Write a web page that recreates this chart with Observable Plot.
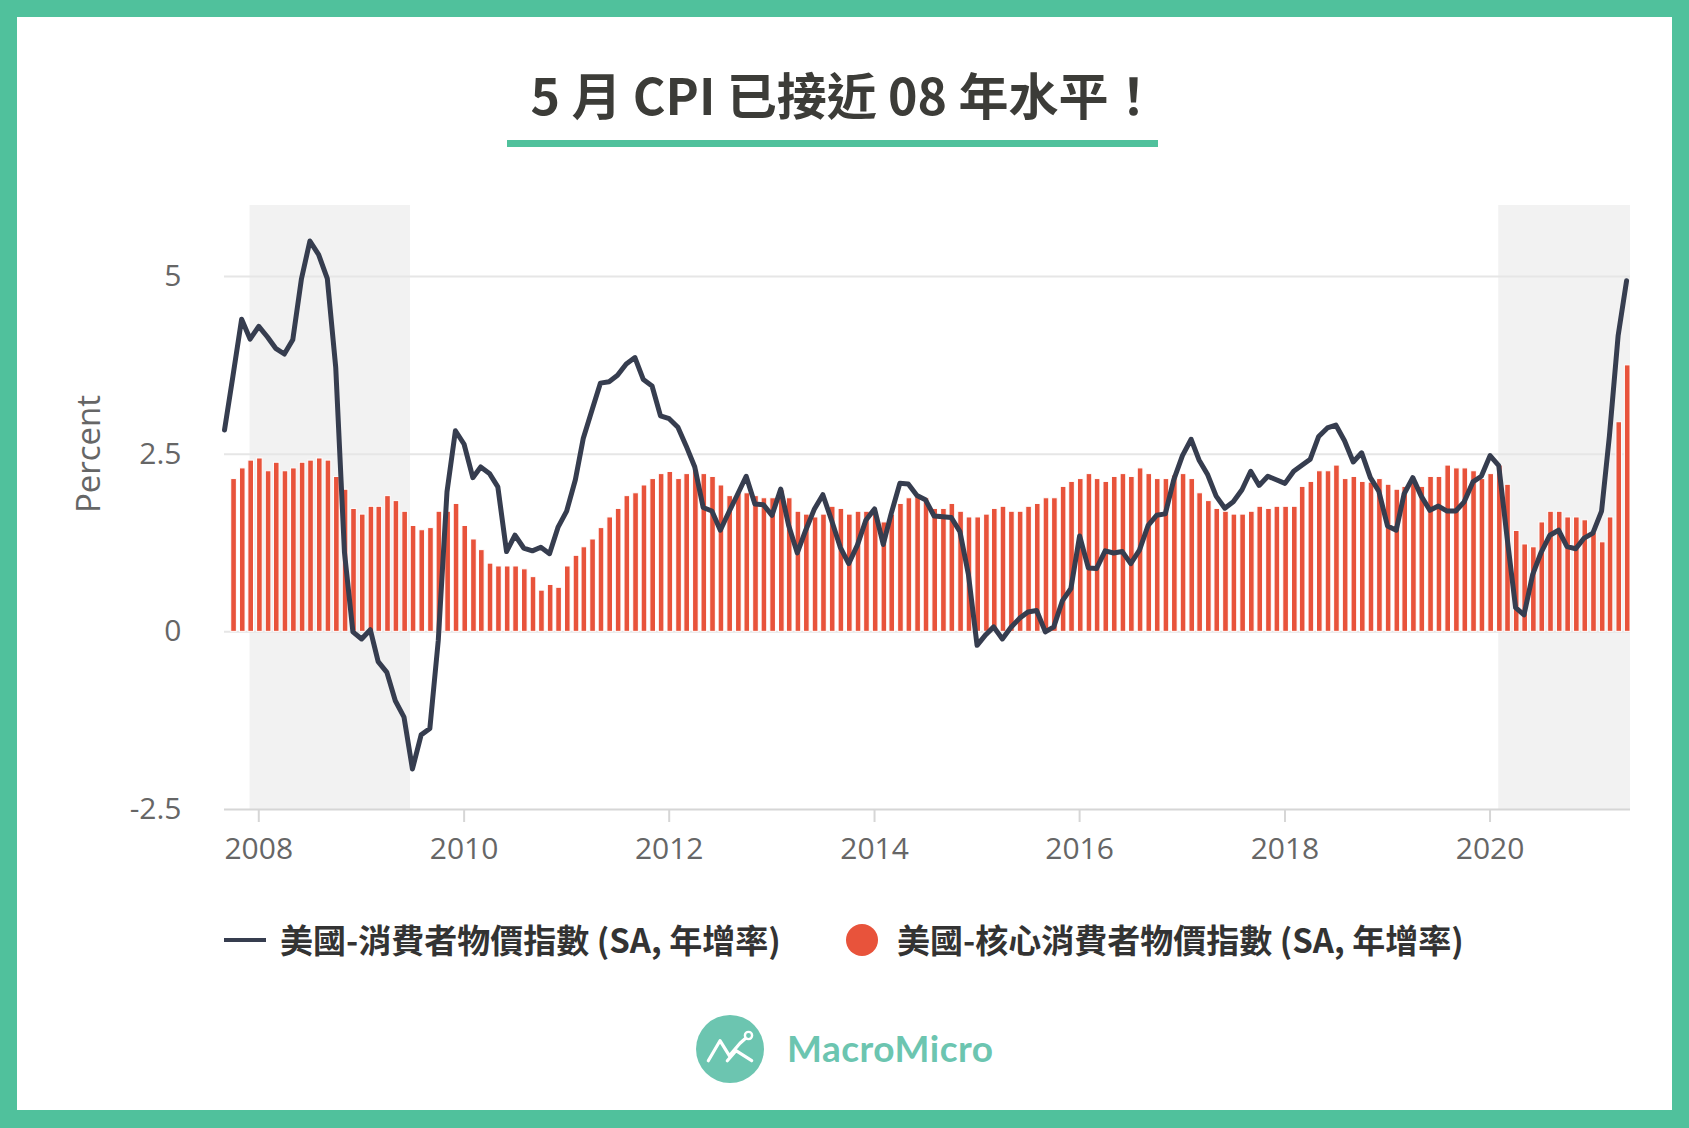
<!DOCTYPE html>
<html><head><meta charset="utf-8">
<script src="https://cdn.jsdelivr.net/npm/d3@7"></script>
<script src="https://cdn.jsdelivr.net/npm/@observablehq/plot@0.6"></script>
<style>
html,body{margin:0;padding:0;}
body{width:1689px;height:1128px;background:#50c19c;position:relative;overflow:hidden;font-family:"Noto Sans CJK TC","Noto Sans",sans-serif;}
#card{position:absolute;left:17px;top:17px;width:1655px;height:1093px;background:#fff;}
#title{position:absolute;left:0;top:58px;width:1689px;text-align:center;font-size:50px;font-weight:700;color:#3c3c38;line-height:70px;white-space:pre;}
#underline{position:absolute;left:507px;top:140px;width:651px;height:7px;background:#50c19c;}
#chart{position:absolute;left:0;top:180px;}
#ylabel{position:absolute;left:87px;top:454px;transform:translate(-50%,-50%) rotate(-90deg);font-family:"Open Sans",sans-serif;font-size:33px;color:#666;white-space:nowrap;}
.leg{position:absolute;top:940px;transform:translateY(-50%);font-size:33px;font-weight:700;color:#333;white-space:nowrap;line-height:1.2;}
.sw-line{position:absolute;left:224px;top:938px;width:42px;height:4px;background:#363d4f;}
.sw-dot{position:absolute;left:846px;top:924px;width:32px;height:32px;border-radius:50%;background:#e8533b;}
#logo-text{position:absolute;left:787px;top:1026px;font-family:"Lato",sans-serif;font-weight:700;font-size:37px;color:#6cc5b0;line-height:44px;letter-spacing:0.5px;}
#logo-icon{position:absolute;left:696px;top:1015px;}
</style></head>
<body>
<div id="card"></div>
<div id="title">5 月 CPI 已接近 08 年水平！</div>
<div id="underline"></div>
<div id="chart"></div>
<div id="ylabel">Percent</div>
<div class="sw-line"></div>
<div class="leg" style="left:280px">美國-消費者物價指數 (SA, 年增率)</div>
<div class="sw-dot"></div>
<div class="leg" style="left:897px">美國-核心消費者物價指數 (SA, 年增率)</div>
<svg id="logo-icon" width="68" height="68" viewBox="0 0 68 68">
  <circle cx="34" cy="34" r="34" fill="#6cc5b0"/>
  <polyline points="12.3,45.7 24,25.7 33.3,40.7 44,28.3 51.3,21.7" fill="none" stroke="#fff" stroke-width="3.2" stroke-linecap="round" stroke-linejoin="round"/>
  <polyline points="31.3,45.7 40,35.7 55.7,45.7" fill="none" stroke="#fff" stroke-width="3.2" stroke-linecap="round" stroke-linejoin="round"/>
  <circle cx="52.5" cy="20.5" r="3.6" fill="#6cc5b0" stroke="#fff" stroke-width="2.4"/>
</svg>
<div id="logo-text">MacroMicro</div>
<script>
// ---- data (monthly, starting 2007-09) ----
const startYear = 2007, startMonth = 9;
const cpiYoY = [
 2.84,3.6,4.4,4.12,
 4.30,4.15,3.99,3.91,4.11,4.97,5.50,5.31,4.97,3.72,1.12,0.0,
 -0.10,0.03,-0.42,-0.57,-0.97,-1.20,-1.93,-1.45,-1.36,-0.12,1.97,2.83,
 2.64,2.17,2.32,2.23,2.04,1.13,1.36,1.18,1.14,1.19,1.10,1.47,
 1.70,2.14,2.72,3.12,3.50,3.52,3.61,3.77,3.86,3.55,3.46,3.04,
 3.00,2.88,2.62,2.32,1.75,1.70,1.43,1.69,1.94,2.19,1.80,1.79,
 1.64,2.01,1.50,1.11,1.43,1.73,1.93,1.57,1.19,0.96,1.22,1.57,
 1.73,1.23,1.66,2.09,2.08,1.92,1.86,1.63,1.62,1.61,1.41,0.81,
 -0.19,-0.04,0.07,-0.10,0.06,0.19,0.28,0.30,0.0,0.07,0.44,0.61,
 1.35,0.90,0.89,1.14,1.11,1.13,0.96,1.15,1.50,1.64,1.66,2.14,
 2.48,2.71,2.42,2.21,1.91,1.74,1.83,2.00,2.26,2.06,2.19,2.14,
 2.09,2.26,2.34,2.43,2.75,2.87,2.91,2.69,2.39,2.52,2.17,1.98,
 1.49,1.43,1.94,2.17,1.91,1.71,1.77,1.70,1.70,1.83,2.11,2.19,
 2.48,2.34,1.35,0.34,0.24,0.81,1.12,1.36,1.43,1.20,1.17,1.32,
 1.39,1.70,2.76,4.17,4.94
];
const coreCpiYoY = [
 null,2.15,2.30,2.41,
 2.44,2.26,2.38,2.26,2.30,2.38,2.41,2.44,2.41,2.18,2.00,1.73,
 1.65,1.76,1.76,1.91,1.84,1.69,1.49,1.43,1.46,1.69,1.69,1.80,
 1.49,1.30,1.15,0.96,0.92,0.92,0.92,0.88,0.77,0.58,0.66,0.62,
 0.92,1.07,1.19,1.30,1.46,1.61,1.73,1.91,1.95,2.06,2.15,2.22,
 2.25,2.15,2.22,2.28,2.22,2.18,2.06,1.91,1.95,1.95,1.91,1.88,
 1.88,1.99,1.88,1.69,1.65,1.61,1.65,1.76,1.73,1.65,1.69,1.69,
 1.69,1.54,1.65,1.80,1.88,1.91,1.88,1.73,1.73,1.80,1.69,1.61,
 1.61,1.65,1.73,1.76,1.69,1.69,1.76,1.80,1.88,1.88,2.04,2.11,
 2.15,2.22,2.15,2.11,2.18,2.22,2.18,2.30,2.22,2.15,2.15,2.20,
 2.22,2.15,1.95,1.84,1.73,1.69,1.65,1.65,1.69,1.76,1.73,1.76,
 1.76,1.76,2.04,2.11,2.26,2.26,2.34,2.15,2.18,2.11,2.10,2.15,
 2.07,2.00,2.04,2.10,2.04,2.18,2.18,2.34,2.30,2.30,2.26,2.15,
 2.22,2.34,2.07,1.42,1.23,1.19,1.54,1.69,1.69,1.61,1.61,1.57,
 1.40,1.26,1.61,2.95,3.75
];
const recessionStarts = ["2007-12-01", "2020-02-01"];
const recessionEnds   = ["2009-06-24", "2021-05-15"];
const xTickYears = [2008, 2010, 2012, 2014, 2016, 2018, 2020];
const yTickValues = [-2.5, 0, 2.5, 5];
const xDomain = ["2007-09-01", "2021-05-15"];
const yDomain = [-2.5, 6];

// ---- build tables ----
const monthDate = i => new Date(Date.UTC(startYear, startMonth - 1 + i, 1));
const cpiRows = cpiYoY.map((v, i) => ({date: monthDate(i), value: v}));
const coreRows = coreCpiYoY.map((v, i) => ({date: monthDate(i), value: v})).filter(d => d.value != null)
  .map(d => ({...d, x1: d3.utcDay.offset(d.date, -6), x2: d3.utcDay.offset(d.date, 14)}));
const bands = recessionStarts.map((s, i) => ({start: new Date(s), end: new Date(recessionEnds[i])}));
const xTicks = xTickYears.map(y => new Date(Date.UTC(y, 0, 1)));

const chart = Plot.plot({
  width: 1689,
  height: 700,
  marginLeft: 224,
  marginRight: 59,
  marginTop: 25,
  marginBottom: 71,
  style: {fontFamily: "'Open Sans', sans-serif", background: "transparent", overflow: "visible"},
  x: {type: "utc", domain: xDomain.map(d => new Date(d))},
  y: {domain: yDomain},
  marks: [
    Plot.rect(bands, {x1: "start", x2: "end", y1: yDomain[0], y2: yDomain[1], fill: "#f2f2f2"}),
    Plot.gridY(yTickValues.filter(v => v > yDomain[0]), {stroke: "#e6e6e6", strokeOpacity: 1, strokeWidth: 2}),
    Plot.rect(coreRows, {x1: "x1", x2: "x2", y1: 0, y2: "value", fill: "#e8533b", stroke: "#ffffff", strokeWidth: 1}),
    Plot.ruleY([yDomain[0]], {stroke: "#d6d6d6", strokeWidth: 2}),
    Plot.lineY(cpiRows, {x: "date", y: "value", stroke: "#363d4f", strokeWidth: 5, strokeLinejoin: "round", strokeLinecap: "round"}),
    Plot.axisX({ticks: xTicks, tickFormat: d3.utcFormat("%Y"), tickSize: 13, tickPadding: 15, stroke: "#d6d6d6", strokeWidth: 2, fill: "#666", fontSize: 30, label: null}),
    Plot.axisY({ticks: yTickValues, tickFormat: d => String(d), tickSize: 0, tickPadding: 43, fill: "#666", fontSize: 30, label: null})
  ]
});
document.getElementById("chart").appendChild(chart);
</script>
</body></html>
